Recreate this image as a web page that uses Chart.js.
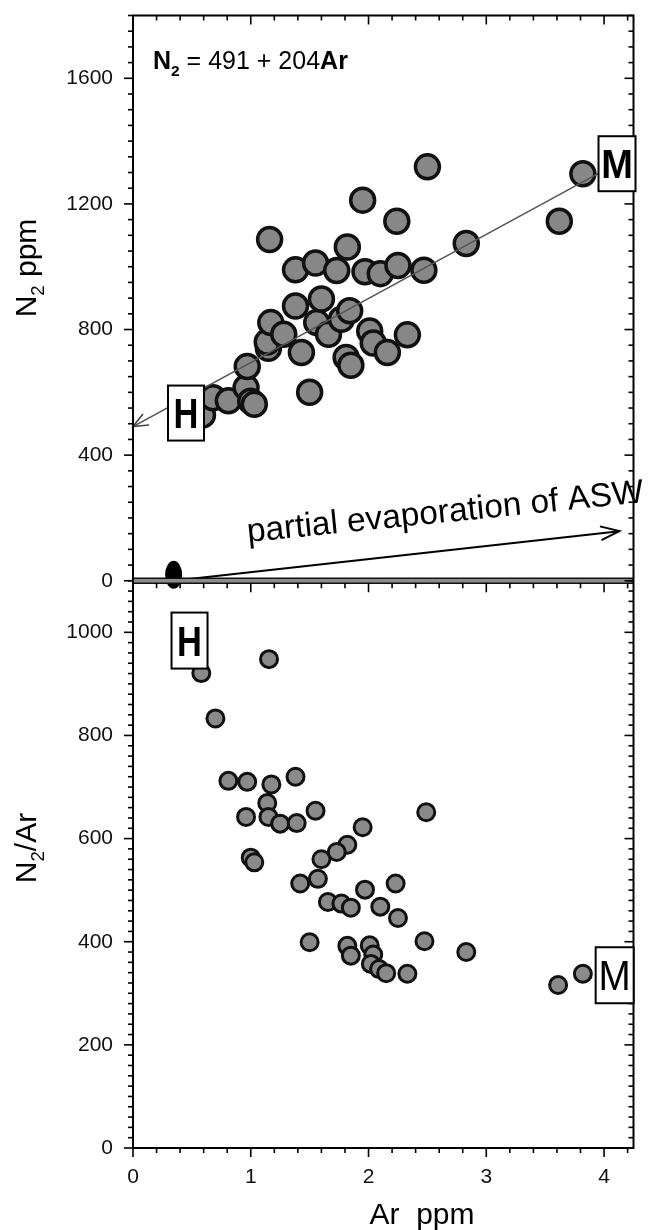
<!DOCTYPE html>
<html>
<head>
<meta charset="utf-8">
<script src="https://cdn.jsdelivr.net/npm/chart.js@4.4.1/dist/chart.umd.min.js"></script>
<style>
  html, body { margin: 0; padding: 0; background: #fff; }
</style>
</head>
<body>
<canvas id="chart" width="649" height="1230"></canvas>
<script>
// ===== N2 vs Ar (top panel) and N2/Ar vs Ar (bottom panel) =====

const FONT = '"Liberation Sans", Arial, Helvetica, sans-serif';

// top panel: N2 ppm against Ar ppm
const topAr = [0.59, 0.68, 0.81, 0.96, 1.00, 1.03, 0.97, 1.15, 1.14, 1.17,
               1.28, 1.16, 1.38, 1.38, 1.43, 1.50, 1.55, 1.56, 1.60, 1.66,
               1.73, 1.77, 1.82, 1.84, 1.81, 1.85, 1.95, 1.97, 2.01, 2.04,
               2.10, 2.16, 2.24, 2.25, 2.33, 2.47, 2.50, 2.83, 3.62, 3.82];
const topN2 = [528, 583, 573, 615, 572, 562, 682, 740, 760, 822,
               785, 1087, 875, 990, 727, 600, 1012, 822, 897, 785,
               988, 833, 1063, 860, 711, 686, 1212, 984, 795, 757,
               978, 727, 1145, 1004, 783, 989, 1318, 1074, 1145, 1296];

// bottom panel: N2/Ar against Ar ppm
const botAr = [0.58, 1.155, 0.70, 0.81, 0.97, 1.175, 1.38, 1.14, 0.96, 1.15,
               1.25, 1.39, 1.55, 1.95, 1.00, 1.03, 1.82, 1.73, 1.60, 1.57,
               1.42, 1.97, 2.49, 2.23, 1.655, 1.77, 1.85, 2.10, 2.25, 1.50,
               1.82, 1.85, 2.01, 2.04, 2.02, 2.09, 2.15, 2.33, 2.475, 2.83,
               3.61, 3.82];
const botRatio = [921, 948, 833, 712, 710, 705, 720, 669, 642, 642,
                  629, 630, 654, 622, 563, 554, 588, 574, 560, 522,
                  513, 501, 651, 513, 477, 474, 466, 468, 446, 399,
                  392, 373, 393, 375, 357, 347, 339, 338, 401, 380,
                  316, 338];

// regression N2 = 491 + 204Ar, end points as drawn
const fitAr = [0, 3.96];
const fitN2 = [491, 1299];

// partial evaporation of ASW arrow and the ASW marker
const aswAr = [0.42, 4.13];
const aswN2 = [3, 158];
const aswMarkerAr = [0.345];
const aswMarkerN2 = [19];

// labelled ticks
const xTicks = [0, 1, 2, 3, 4];
const topTicks = [0, 400, 800, 1200, 1600];
const botTicks = [0, 200, 400, 600, 800, 1000];

const pts = (xs, ys) => xs.map((v, i) => ({ x: v, y: ys[i] }));

function drawParts(ctx, parts, x, y, size) {
  // parts: [text, bold, subscript]
  let cx = x;
  for (const [t, bold, sub] of parts) {
    const fs = sub ? size * 0.62 : size;
    ctx.font = (bold ? 'bold ' : '') + fs + 'px ' + FONT;
    ctx.fillText(t, cx, y + (sub ? size * 0.28 : 0));
    cx += ctx.measureText(t).width;
  }
}
function partsWidth(ctx, parts, size) {
  let w = 0;
  for (const [t, bold, sub] of parts) {
    const fs = sub ? size * 0.62 : size;
    ctx.font = (bold ? 'bold ' : '') + fs + 'px ' + FONT;
    w += ctx.measureText(t).width;
  }
  return w;
}

function arrowHead(ctx, x0, y0, x1, y1, len, spread) {
  const ang = Math.atan2(y1 - y0, x1 - x0);
  ctx.beginPath();
  ctx.moveTo(x1 - len * Math.cos(ang - spread), y1 - len * Math.sin(ang - spread));
  ctx.lineTo(x1, y1);
  ctx.lineTo(x1 - len * Math.cos(ang + spread), y1 - len * Math.sin(ang + spread));
  ctx.stroke();
}

function letterBox(ctx, cx, cy, w, h, letter, bold, size, sx) {
  ctx.fillStyle = '#fff';
  ctx.fillRect(cx - w / 2, cy - h / 2, w, h);
  ctx.lineWidth = 2;
  ctx.strokeStyle = '#000';
  ctx.strokeRect(cx - w / 2, cy - h / 2, w, h);
  ctx.save();
  ctx.translate(cx, cy);
  ctx.scale(sx, 1);
  ctx.fillStyle = '#000';
  ctx.font = (bold ? 'bold ' : '') + size + 'px ' + FONT;
  ctx.textAlign = 'center';
  ctx.textBaseline = 'alphabetic';
  ctx.fillText(letter, 0, size * 0.36);
  ctx.restore();
}

function ticksV(ctx, scale, xPos, dir, minor, major, lo, hi) {
  const n = Math.round((scale.max - scale.min) / minor);
  for (let i = 0; i <= n; i++) {
    const v = scale.min + i * minor;
    const isMajor = Math.abs(v / major - Math.round(v / major)) < 1e-6;
    const p = scale.getPixelForValue(v);
    if (p < lo - 0.5 || p > hi + 0.5) continue;
    const len = isMajor ? 9 : 5;
    ctx.beginPath();
    ctx.moveTo(xPos, p);
    ctx.lineTo(xPos + dir * len, p);
    ctx.stroke();
  }
}
function ticksH(ctx, scale, yPos, dir, minor, major) {
  const n = Math.floor((scale.max - scale.min) / minor + 1e-6);
  for (let i = 0; i <= n; i++) {
    const v = scale.min + i * minor;
    const isMajor = Math.abs(v / major - Math.round(v / major)) < 1e-6;
    const p = scale.getPixelForValue(v);
    const len = isMajor ? 9 : 5;
    ctx.beginPath();
    ctx.moveTo(p, yPos);
    ctx.lineTo(p, yPos + dir * len);
    ctx.stroke();
  }
}

// keep the frame where the reference has it: no label overhang padding
function noPad(s) {
  s.paddingTop = 0; s.paddingBottom = 0; s.paddingLeft = 0; s.paddingRight = 0;
}

const decor = {
  id: 'decor',
  afterDatasetsDraw(chart) {
    const { ctx, chartArea: a, scales } = chart;
    const sx = scales.x, yt = scales.yTop, yb = scales.yBot;
    const join = yt.bottom;
    ctx.save();

    // ASW marker
    ctx.fillStyle = '#000';
    ctx.beginPath();
    ctx.ellipse(sx.getPixelForValue(aswMarkerAr[0]), yt.getPixelForValue(aswMarkerN2[0]), 8.5, 14, 0, 0, Math.PI * 2);
    ctx.fill();

    // arrow heads
    ctx.strokeStyle = '#000';
    ctx.lineWidth = 2;
    arrowHead(ctx, sx.getPixelForValue(aswAr[0]), yt.getPixelForValue(aswN2[0]),
      sx.getPixelForValue(aswAr[1]), yt.getPixelForValue(aswN2[1]), 20, 0.35);
    ctx.strokeStyle = '#444';
    ctx.lineWidth = 1.6;
    arrowHead(ctx, sx.getPixelForValue(fitAr[1]), yt.getPixelForValue(fitN2[1]),
      sx.getPixelForValue(fitAr[0]), yt.getPixelForValue(fitN2[0]), 16, 0.4);

    // band at the join of the two panels
    ctx.fillStyle = '#8c8c8c';
    ctx.fillRect(a.left, join - 2.5, a.right - a.left, 5);
    ctx.strokeStyle = '#111';
    ctx.lineWidth = 1.5;
    ctx.beginPath();
    ctx.moveTo(a.left, join - 2.5); ctx.lineTo(a.right, join - 2.5);
    ctx.moveTo(a.left, join + 2.5); ctx.lineTo(a.right, join + 2.5);
    ctx.stroke();

    // frame
    ctx.strokeStyle = '#000';
    ctx.lineWidth = 2;
    ctx.strokeRect(a.left, a.top, a.right - a.left, a.bottom - a.top);

    // tick marks
    ctx.lineWidth = 1.6;
    ticksV(ctx, yt, a.left, -1, 50, 400, a.top, join);
    ticksV(ctx, yt, a.right, -1, 50, 400, a.top, join);
    ticksV(ctx, yb, a.left, -1, 20, 200, join, a.bottom);
    ticksV(ctx, yb, a.right, -1, 20, 200, join, a.bottom);
    ticksH(ctx, sx, a.top, 1, 0.2, 1);
    ticksH(ctx, sx, join + 2.5, 1, 0.2, 1);
    ticksH(ctx, sx, a.bottom, 1, 0.2, 1);

    // letter boxes
    letterBox(ctx, sx.getPixelForValue(0.45), yt.getPixelForValue(534), 36, 55, 'H', true, 42, 0.82);
    letterBox(ctx, sx.getPixelForValue(4.11), yt.getPixelForValue(1328), 37, 55, 'M', true, 40, 0.95);
    letterBox(ctx, sx.getPixelForValue(0.48), yb.getPixelForValue(984), 36, 56, 'H', true, 42, 0.82);
    letterBox(ctx, sx.getPixelForValue(4.09), yb.getPixelForValue(335), 38, 56, 'M', false, 42, 0.92);

    // texts
    ctx.fillStyle = '#000';
    ctx.textBaseline = 'alphabetic';
    ctx.textAlign = 'left';
    drawParts(ctx, [['N', true], ['2', true, true], [' = 491 + 204', false], ['Ar', true]], a.left + 20, a.top + 53, 25);

    ctx.save();
    ctx.translate(248, 542);
    ctx.rotate(-0.1);
    ctx.font = '33.5px ' + FONT;
    ctx.fillText('partial evaporation of ASW', 0, 0);
    ctx.restore();

    const yTitleTop = [['N', false], ['2', false, true], [' ppm', false]];
    ctx.save();
    ctx.translate(36, 268);
    ctx.rotate(-Math.PI / 2);
    drawParts(ctx, yTitleTop, -partsWidth(ctx, yTitleTop, 30) / 2, 0, 30);
    ctx.restore();

    const yTitleBot = [['N', false], ['2', false, true], ['/Ar', false]];
    ctx.save();
    ctx.translate(36, 848);
    ctx.rotate(-Math.PI / 2);
    drawParts(ctx, yTitleBot, -partsWidth(ctx, yTitleBot, 30) / 2, 0, 30);
    ctx.restore();

    ctx.font = '30px ' + FONT;
    ctx.textAlign = 'center';
    ctx.fillText('Ar  ppm', 422, 1224);

    ctx.restore();
  }
};

const tickFont = { family: FONT, size: 21 };

new Chart(document.getElementById('chart'), {
  type: 'scatter',
  data: {
    datasets: [
      {
        label: 'fit',
        type: 'line',
        data: pts(fitAr, fitN2),
        yAxisID: 'yTop',
        borderColor: '#555',
        borderWidth: 1.6,
        pointRadius: 0,
        fill: false
      },
      {
        label: 'ASW',
        type: 'line',
        data: pts(aswAr, aswN2),
        yAxisID: 'yTop',
        borderColor: '#000',
        borderWidth: 2,
        pointRadius: 0,
        fill: false
      },
      {
        label: 'N2',
        data: pts(topAr, topN2),
        yAxisID: 'yTop',
        backgroundColor: '#878787',
        borderColor: '#111',
        borderWidth: 3.5,
        pointRadius: 12
      },
      {
        label: 'N2/Ar',
        data: pts(botAr, botRatio),
        yAxisID: 'yBot',
        backgroundColor: '#8a8a8a',
        borderColor: '#111',
        borderWidth: 3,
        pointRadius: 8.5
      }
    ]
  },
  options: {
    responsive: false,
    animation: false,
    devicePixelRatio: 1,
    layout: { padding: { top: 14, right: 14, left: 0, bottom: 0 } },
    plugins: { legend: { display: false }, tooltip: { enabled: false } },
    scales: {
      x: {
        type: 'linear', position: 'bottom', min: 0, max: 4.25,
        ticks: { stepSize: 1, padding: 17, font: tickFont, color: '#111', maxRotation: 0,
          autoSkip: false, includeBounds: false,
          callback: v => xTicks.includes(v) ? String(v) : '' },
        grid: { display: false, drawTicks: false },
        border: { display: false },
        afterFit: s => { s.height = 82; noPad(s); }
      },
      // stacked panels are laid out bottom first
      yBot: {
        type: 'linear', position: 'left', stack: 'panels', stackWeight: 568,
        min: 0, max: 1100,
        ticks: { stepSize: 200, padding: 20, font: tickFont, color: '#111',
          callback: v => botTicks.includes(v) ? String(v) : '' },
        grid: { display: false, drawTicks: false },
        border: { display: false },
        afterFit: s => { s.width = 133; noPad(s); }
      },
      yTop: {
        type: 'linear', position: 'left', stack: 'panels', stackWeight: 566,
        min: 0, max: 1800,
        ticks: { stepSize: 400, padding: 20, font: tickFont, color: '#111',
          callback: v => topTicks.includes(v) ? String(v) : '' },
        grid: { display: false, drawTicks: false },
        border: { display: false },
        afterFit: s => { s.width = 133; noPad(s); }
      }
    }
  },
  plugins: [decor]
});
</script>
</body>
</html>
